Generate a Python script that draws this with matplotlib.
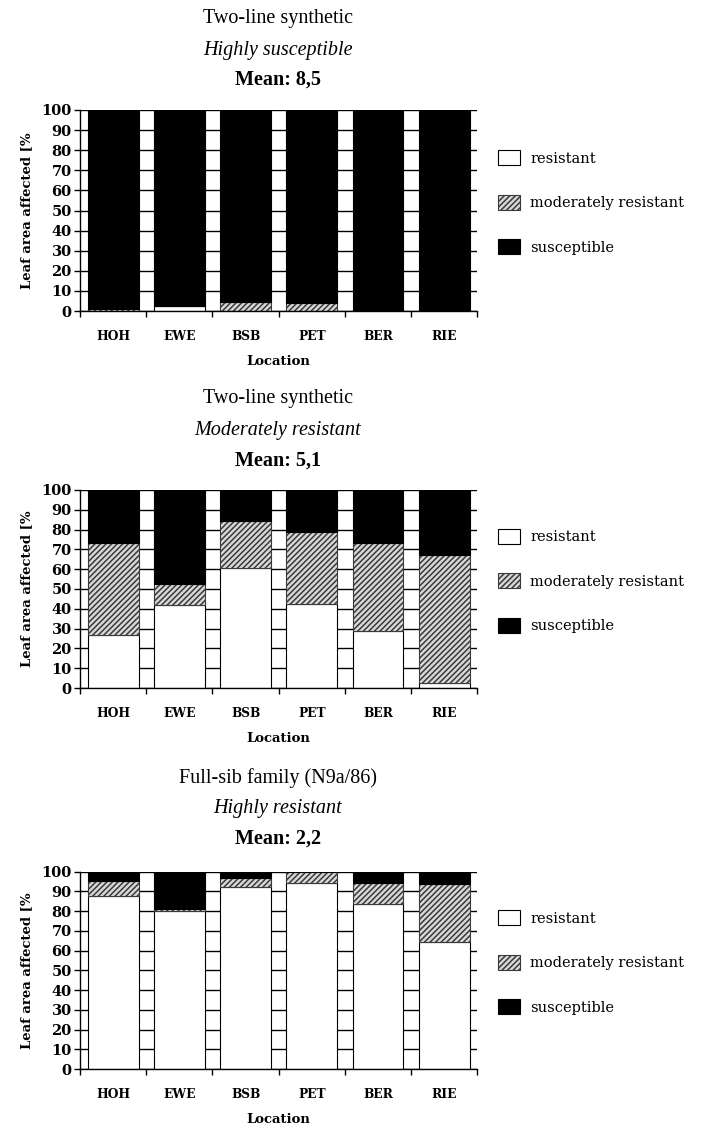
import numpy as np
import matplotlib
matplotlib.use('Agg')
import matplotlib.pyplot as plt
from matplotlib.patches import Patch

locations = ['HOH', 'EWE', 'BSB', 'PET', 'BER', 'RIE']

# shares in % (resistant, moderately resistant, susceptible)
res_1 = [0, 2.3, 0, 0, 0, 0]
mod_1 = [1, 0, 4.5, 4, 0, 0]
sus_1 = [99, 97.7, 95.5, 96, 100, 100]

res_2 = [27, 42, 60.5, 42.5, 29, 2.5]
mod_2 = [46, 10.5, 24, 36.5, 44, 64.5]
sus_2 = [27, 47.5, 15.5, 21, 27, 33]

res_3 = [87.5, 80.3, 92, 94.3, 83.6, 64.3]
mod_3 = [8, 0.8, 4.8, 5.7, 10.8, 29.3]
sus_3 = [4.5, 18.9, 3.2, 0, 5.6, 6.4]

titles = [('Two-line synthetic', 'Highly susceptible', 'Mean: 8,5'),
          ('Two-line synthetic', 'Moderately resistant', 'Mean: 5,1'),
          ('Full-sib family (N9a/86)', 'Highly resistant', 'Mean: 2,2')]

legend_labels = ['resistant', 'moderately resistant', 'susceptible']

plt.rcParams['hatch.linewidth'] = 1.1

fig = plt.figure(figsize=(7.12, 11.29), dpi=100)

# axes boxes [left, bottom, width, height]
boxes = [[0.1124, 0.7245, 0.558, 0.1781],
         [0.1124, 0.3906, 0.558, 0.1754],
         [0.1124, 0.0531, 0.558, 0.1748]]
title_y = [(1129 - 18, 1129 - 50, 1129 - 80),
           (1129 - 398, 1129 - 430, 1129 - 461),
           (1129 - 778, 1129 - 808, 1129 - 839)]

data = [(res_1, mod_1, sus_1), (res_2, mod_2, sus_2), (res_3, mod_3, sus_3)]

x = np.arange(len(locations))
w = 0.77
hatch_col = '#3a3a3a'

for k in range(3):
    ax = fig.add_axes(boxes[k])
    res, mod, sus = [np.array(d) for d in data[k]]
    ax.set_axisbelow(True)
    ax.yaxis.grid(True, color='black', linewidth=1.0)
    ax.bar(x, res, w, color='white', edgecolor='black', linewidth=0.8, zorder=2)
    ax.bar(x, mod, w, bottom=res, color='#d8d8d8', edgecolor=hatch_col,
           hatch='//////', linewidth=0.8, zorder=2)
    ax.bar(x, sus, w, bottom=res + mod, color='black', edgecolor='black',
           linewidth=0.8, zorder=2)

    ax.set_xlim(-0.5, len(locations) - 0.5)
    ax.set_ylim(0, 100)
    ax.set_yticks(np.arange(0, 101, 10))
    ax.set_xticks(x)
    ax.set_xticklabels(locations)
    ax.set_xticks(np.arange(-0.5, len(locations), 1), minor=True)
    ax.tick_params(axis='x', which='major', length=0, pad=14)
    ax.tick_params(axis='x', which='minor', length=4, width=1, direction='out')
    ax.tick_params(axis='y', length=4, width=1, direction='out', pad=2)
    for lab in ax.get_xticklabels() + ax.get_yticklabels():
        lab.set_family('DejaVu Serif')
        lab.set_fontweight('bold')
        lab.set_fontsize(8.8)
    for lab in ax.get_yticklabels():
        lab.set_fontsize(10.5)

    for s in ['top', 'right']:
        ax.spines[s].set_visible(False)
    ax.spines['left'].set_linewidth(1)
    ax.spines['bottom'].set_linewidth(1)

    ax.set_xlabel('Location', family='DejaVu Serif', fontweight='bold',
                  fontsize=9.5, labelpad=8)
    ax.set_ylabel('Leaf area affected [%', family='DejaVu Serif',
                  fontweight='bold', fontsize=9.5, labelpad=6)

    t1, t2, t3 = titles[k]
    y1, y2, y3 = title_y[k]
    fig.text(0.39, y1 / 1129, t1, ha='center', va='center',
             family='Liberation Serif', fontsize=14.5)
    fig.text(0.39, y2 / 1129, t2, ha='center', va='center',
             family='Liberation Serif', style='italic', fontsize=14.5)
    fig.text(0.39, y3 / 1129, t3, ha='center', va='center',
             family='Liberation Serif', fontweight='bold', fontsize=14.5)

    handles = [Patch(facecolor='white', edgecolor='black', linewidth=0.8),
               Patch(facecolor='#d8d8d8', edgecolor=hatch_col, hatch='//////', linewidth=0.8),
               Patch(facecolor='black', edgecolor='black', linewidth=0.8)]
    leg = ax.legend(handles, legend_labels, loc='center left',
                    bbox_to_anchor=(1.02, 0.54), frameon=False,
                    prop={'family': 'DejaVu Serif', 'size': 10.5},
                    handlelength=1.5, handleheight=1.2,
                    labelspacing=2.0, handletextpad=0.7)

fig.savefig('out.png', dpi=100)
